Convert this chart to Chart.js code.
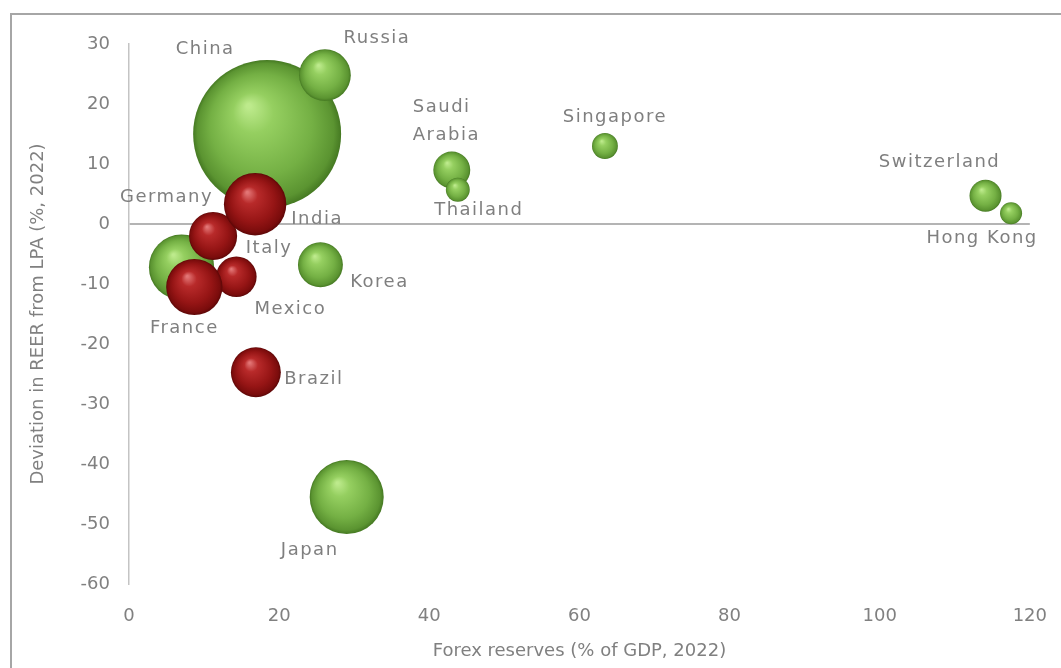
<!DOCTYPE html>
<html><head><meta charset="utf-8">
<script src="https://cdn.jsdelivr.net/npm/chart.js@4/dist/chart.umd.min.js"></script>
<style>html,body{margin:0;padding:0;background:#fff;overflow:hidden}</style>
</head><body>
<canvas id="c" width="1061" height="668"></canvas>
<script>
// ---- data (draw order: back to front) ----
const countries     = ['China','Germany','Russia','Korea','Japan','Saudi\nArabia','Thailand','Singapore','Switzerland','Hong Kong','Mexico','Italy','France','India','Brazil'];
const forexReserves = [18.4, 7.0, 26.1, 25.5, 29.0, 43.0, 43.8, 63.4, 114.1, 117.5, 14.3, 11.2, 8.7, 16.8, 16.9];
const reerDeviation = [15.0, -7.2, 24.8, -6.8, -45.5, 9.0, 5.7, 13.0, 4.7, 1.8, -8.8, -2.0, -10.5, 3.3, -24.7];
const gdpTn         = [18.0, 3.5, 2.2, 1.66, 4.5, 1.12, 0.47, 0.55, 0.84, 0.40, 1.35, 1.9, 2.6, 3.2, 2.05];
const group         = ['g','g','g','g','g','g','g','g','g','g','r','r','r','r','r'];
const xTicks = [0, 20, 40, 60, 80, 100, 120];
const yTicks = [-60, -50, -40, -30, -20, -10, 0, 10, 20, 30];
const xTitle = 'Forex reserves (% of GDP, 2022)';
const yTitle = 'Deviation in REER from LPA (%, 2022)';

// ---- styling / label placement (pixels relative to bubble centre) ----
const labelOffsets = [[-62,-85,'center'],[-15,-70,'center'],[52,-37,'center'],[59,18,'center'],[-37,53,'center'],
  [-39,-63,'left'],[21,21,'center'],[10,-29,'center'],[-46,-33,'center'],[-29,25,'center'],
  [54,33,'center'],[56,12,'center'],[-10,41,'center'],[62,15,'center'],[58,7,'center']];
const MAX_R = 74;
const palettes = {
  g: ['#bdea8c','#95cf60','#74b044','#5b9431','#457922'],
  r: ['#e27575','#b82a2a','#961515','#7a0c0c','#5c0707']
};

const points = countries.map((c, i) => ({x: forexReserves[i], y: reerDeviation[i], r: MAX_R * Math.sqrt(gdpTn[i] / gdpTn[0])}));

function sphere(ctx) {
  const i = ctx.dataIndex, d = ctx.raw, chart = ctx.chart;
  if (d === undefined || !chart.chartArea) return '#74b044';
  const pal = palettes[group[i]];
  const x = chart.scales.x.getPixelForValue(d.x);
  const y = chart.scales.y.getPixelForValue(d.y);
  const r = d.r;
  const g = chart.ctx.createRadialGradient(x - 0.25*r, y - 0.38*r, r*0.03, x, y, r);
  g.addColorStop(0, pal[0]);
  g.addColorStop(0.25, pal[1]);
  g.addColorStop(0.68, pal[2]);
  g.addColorStop(0.92, pal[3]);
  g.addColorStop(1, pal[4]);
  return g;
}

const frame = {
  id: 'frame',
  beforeDraw(chart) {
    const c = chart.ctx;
    c.save();
    c.fillStyle = '#fff';
    c.fillRect(0, 0, chart.width, chart.height);
    c.strokeStyle = '#a6a6a6';
    c.lineWidth = 2;
    c.strokeRect(11, 14, 1200, 800);
    c.restore();
  }
};

const labels = {
  id: 'labels',
  afterDatasetsDraw(chart) {
    const c = chart.ctx;
    const meta = chart.getDatasetMeta(0);
    c.save();
    c.font = '18px "DejaVu Sans"';
    c.fillStyle = '#7f7f7f';
    c.textBaseline = 'middle';
    try { c.letterSpacing = '1.5px'; } catch (e) {}
    meta.data.forEach((el, i) => {
      const [dx, dy, al] = labelOffsets[i];
      c.textAlign = al;
      countries[i].split('\n').forEach((line, k) => {
        c.fillText(line, el.x + dx, el.y + dy + k * 28);
      });
    });
    c.restore();
  }
};

new Chart(document.getElementById('c'), {
  type: 'bubble',
  data: {
    datasets: [{
      data: points,
      backgroundColor: sphere,
      hoverBackgroundColor: sphere,
      borderWidth: 0,
      hoverBorderWidth: 0,
      clip: false
    }]
  },
  options: {
    responsive: false,
    animation: false,
    events: [],
    layout: {autoPadding: false, padding: {left: 0, top: 44, right: 18, bottom: 0}},
    plugins: {legend: {display: false}, tooltip: {enabled: false}},
    scales: {
      x: {
        type: 'linear', min: 0, max: 120,
        afterBuildTicks: s => { s.ticks = xTicks.map(v => ({value: v})); },
        afterFit: s => { s.height = 84; },
        grid: {display: false},
        border: {display: false},
        ticks: {color: '#808080', font: {family: 'DejaVu Sans', size: 18}, padding: 14, maxRotation: 0},
        title: {display: true, text: xTitle, color: '#808080', font: {family: 'DejaVu Sans', size: 18}, padding: {top: 0, bottom: 6}}
      },
      y: {
        type: 'linear', min: -60, max: 30,
        afterBuildTicks: s => { s.ticks = yTicks.map(v => ({value: v})); },
        afterFit: s => { s.width = 129; },
        grid: {
          drawTicks: false,
          lineWidth: 2,
          color: c => (c.tick && c.tick.value === 0) ? '#b4b4b4' : 'rgba(0,0,0,0)'
        },
        border: {display: true, color: '#c4c4c4', width: 1.5},
        ticks: {color: '#808080', font: {family: 'DejaVu Sans', size: 18}, padding: 19},
        title: {display: true, text: yTitle, color: '#808080', font: {family: 'DejaVu Sans', size: 18}, padding: {top: 28, bottom: 0}}
      }
    }
  },
  plugins: [frame, labels]
});
</script>
</body></html>
